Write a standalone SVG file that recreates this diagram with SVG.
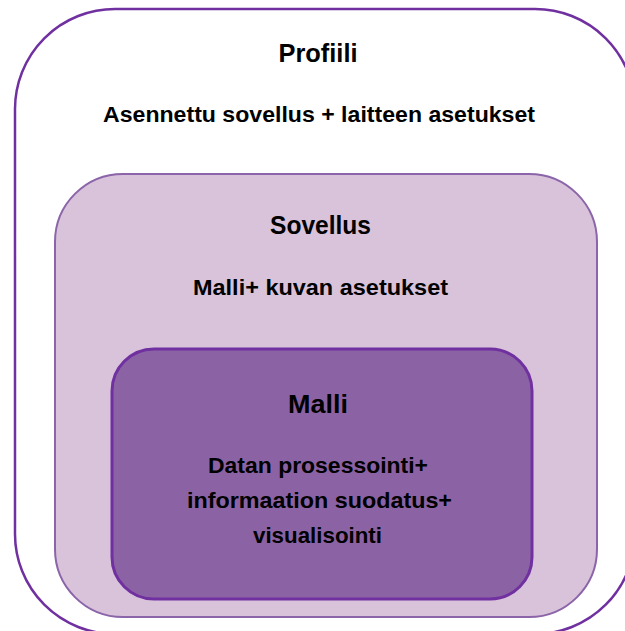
<svg xmlns="http://www.w3.org/2000/svg" width="625" height="631" viewBox="0 0 625 631">
  <style>
    text { font-family: "Liberation Sans", Arial, sans-serif; font-weight: bold; fill: #000; text-anchor: middle; }
    .title { font-size: 25px; }
    .body { font-size: 22px; }
  </style>
  <rect width="625" height="631" fill="#ffffff"/>
  <g id="profiili">
    <rect x="15" y="9" width="620" height="625" rx="100" ry="100" fill="#ffffff" stroke="#7030A0" stroke-width="2.5"/>
    <text class="title" x="318" y="62" textLength="79" lengthAdjust="spacingAndGlyphs">Profiili</text>
    <text class="body" x="319" y="122" textLength="432" lengthAdjust="spacingAndGlyphs">Asennettu sovellus + laitteen asetukset</text>
  </g>
  <g id="sovellus">
    <rect x="55" y="174" width="542" height="443" rx="68" ry="68" fill="#D8C3DA" stroke="#8B64A9" stroke-width="2"/>
    <text class="title" x="320.5" y="234" textLength="101" lengthAdjust="spacingAndGlyphs">Sovellus</text>
    <text class="body" x="320.5" y="295" textLength="255" lengthAdjust="spacingAndGlyphs">Malli+ kuvan asetukset</text>
  </g>
  <g id="malli">
    <rect x="112" y="349" width="420" height="250" rx="42" ry="42" fill="#8B63A5" stroke="#7030A0" stroke-width="3"/>
    <text class="title" x="318" y="413" textLength="60" lengthAdjust="spacingAndGlyphs">Malli</text>
    <text class="body" x="318" y="473" textLength="220" lengthAdjust="spacingAndGlyphs">Datan prosessointi+</text>
    <text class="body" x="319.5" y="508" textLength="265" lengthAdjust="spacingAndGlyphs">informaation suodatus+</text>
    <text class="body" x="317.5" y="543" textLength="129" lengthAdjust="spacingAndGlyphs">visualisointi</text>
  </g>
  <g id="connectors"></g>
</svg>
